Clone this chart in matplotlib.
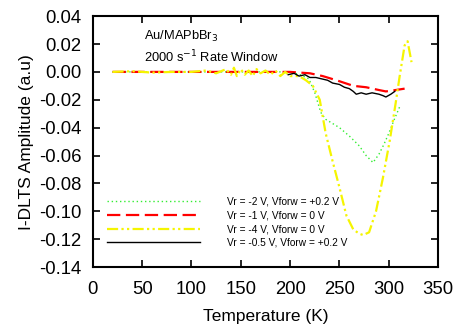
import matplotlib.pyplot as plt

plt.rcParams['font.family'] = ['Liberation Sans', 'DejaVu Sans']

# Vr = -2 V, Vforw = +0.2 V
t_green = [20, 50, 100, 150, 200, 210, 219, 225, 231, 236, 243, 250, 260, 270, 277, 284, 290, 295, 300, 305, 311]
a_green = [0.0, 0.0, 0.0, 0.0, 0.0, -0.002, -0.005, -0.015, -0.029, -0.034, -0.037, -0.040, -0.046, -0.053, -0.060, -0.065, -0.059, -0.052, -0.044, -0.035, -0.025]

# Vr = -1 V, Vforw = 0 V
t_red = [20, 50, 100, 150, 200, 210, 220, 233, 247, 264, 277, 290, 297, 307, 316]
a_red = [0.0, 0.0, 0.0, 0.0, 0.0, -0.0005, -0.001, -0.003, -0.006, -0.010, -0.011, -0.013, -0.014, -0.013, -0.012]

# Vr = -4 V, Vforw = 0 V
t_yellow = [20, 40, 60, 80, 100, 115, 125, 135, 140, 143, 146, 150, 154, 158, 162, 166, 170, 175, 180, 185, 190, 195, 200,
            209, 216, 223, 230, 236, 243, 250, 257, 264, 270, 274, 280, 287, 294, 301, 307, 311, 316, 319, 323]
a_yellow = [0.0, 0.0005, -0.0005, 0.0, 0.0, 0.001, -0.001, 0.002, -0.002, 0.003, -0.003, 0.002, -0.002, 0.001, -0.003, 0.002, -0.001, 0.001, -0.002, 0.001, -0.003, 0.0, -0.003,
            -0.003, -0.006, -0.010, -0.020, -0.044, -0.064, -0.083, -0.103, -0.113, -0.116, -0.117, -0.115, -0.100, -0.076, -0.049, -0.022, -0.003, 0.019, 0.022, 0.007]

# Vr = -0.5 V, Vforw = +0.2 V
t_black = [198, 204, 209, 215, 220, 226, 232, 238, 243, 250, 255, 260, 264, 267, 272, 277, 283, 290, 294, 297, 302, 306]
a_black = [-0.002, -0.001, -0.003, -0.002, -0.004, -0.004, -0.005, -0.006, -0.008, -0.009, -0.011, -0.012, -0.014, -0.016, -0.015, -0.016, -0.015, -0.016, -0.017, -0.018, -0.016, -0.014]

labels = ['Vr = -2 V, Vforw = +0.2 V', 'Vr = -1 V, Vforw = 0 V',
          'Vr = -4 V, Vforw = 0 V', 'Vr = -0.5 V, Vforw = +0.2 V']

fig = plt.figure(figsize=(4.55, 3.29), dpi=100)
ax = fig.add_axes([0.204, 0.188, 0.759, 0.763])

ax.plot(t_green, a_green, color='#33ee33', linestyle=(0, (1, 2)), linewidth=1.0, label=labels[0])
ax.plot(t_red, a_red, color='red', linestyle=(0, (6, 2.5)), linewidth=1.6, label=labels[1])
ax.plot(t_yellow, a_yellow, color='#f5f500', linestyle=(0, (5, 1.5, 1, 1.5, 1, 1.5)), linewidth=1.6, label=labels[2])
ax.plot(t_black, a_black, color='black', linestyle='-', linewidth=1.0, label=labels[3])

ax.set_xlim(0, 350)
ax.set_ylim(-0.14, 0.04)
ax.set_xticks(range(0, 351, 50))
ax.set_yticks([0.04, 0.02, 0.0, -0.02, -0.04, -0.06, -0.08, -0.10, -0.12, -0.14])
ax.set_yticklabels(['0.04', '0.02', '0.00', '-0.02', '-0.04', '-0.06', '-0.08',
                    '-0.10', '-0.12', '-0.14'])
ax.tick_params(direction='in', top=True, right=True, length=5, width=1.2, labelsize=13.3)
ax.tick_params(axis='x', pad=10)
ax.tick_params(axis='y', pad=8)
for s in ax.spines.values():
    s.set_linewidth(1.5)

ax.set_xlabel('Temperature (K)', fontsize=12.5, labelpad=8)
ax.set_ylabel('I-DLTS Amplitude (a.u)', fontsize=12.5, labelpad=4)

ax.text(0.148, 0.92, 'Au/MAPbBr$_3$', transform=ax.transAxes, fontsize=9.3, va='center')
ax.text(0.148, 0.837, '2000 s$^{-1}$ Rate Window', transform=ax.transAxes, fontsize=9.3, va='center')

ax.legend(loc='lower left', bbox_to_anchor=(0.015, 0.04), frameon=False, fontsize=7.3,
          handlelength=9.2, handletextpad=2.6, labelspacing=0.38)

fig.savefig('out.png', dpi=100)
